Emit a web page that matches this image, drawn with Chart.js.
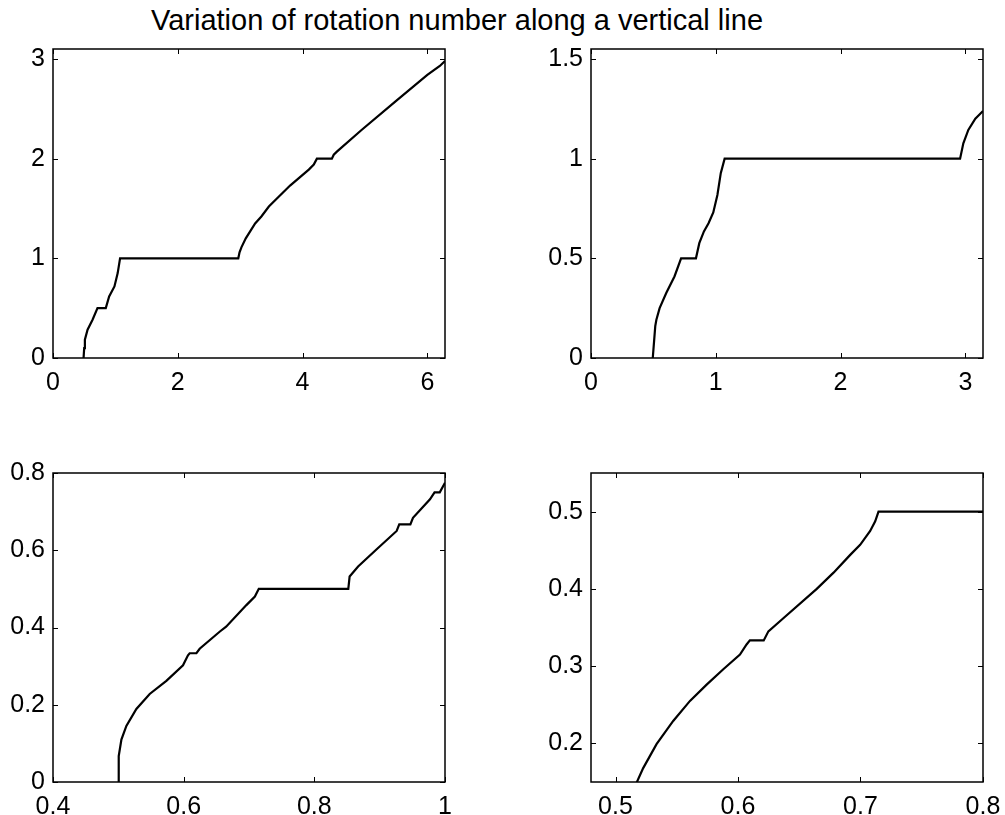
<!DOCTYPE html>
<html>
<head>
<meta charset="utf-8">
<script src="https://cdn.jsdelivr.net/npm/chart.js@4.4.1/dist/chart.umd.min.js"></script>
<style>
  html, body { margin: 0; padding: 0; background: #fff; width: 1005px; height: 815px; overflow: hidden; }
  canvas { position: absolute; }
  #title {
    position: absolute; left: 0; width: 914px; top: 6px; text-align: center;
    font-family: "Liberation Sans", Arial, Helvetica, sans-serif; font-size: 29px; line-height: 29px; color: #000;
  }
</style>
</head>
<body>
<div id="title">Variation of rotation number along a vertical line</div>
<canvas id="c1" width="465" height="370" style="left:0px;top:30px"></canvas>
<canvas id="c2" width="465" height="370" style="left:538px;top:30px"></canvas>
<canvas id="c3" width="465" height="370" style="left:0px;top:454px"></canvas>
<canvas id="c4" width="465" height="370" style="left:538px;top:454px"></canvas>
<script>
// top left: 0 .. 2pi
const x1 = [0.49, 0.5, 0.511, 0.554, 0.634, 0.713, 0.846, 0.9, 0.985, 1.037, 1.075, 2.97, 2.99, 3.02, 3.09, 3.16, 3.24, 3.34, 3.46, 3.8, 4.1, 4.18, 4.23, 4.47, 4.5, 4.55, 4.95, 5.5, 6.0, 6.2, 6.283];
const y1 = [0, 0.1, 0.183, 0.284, 0.384, 0.5, 0.5, 0.618, 0.718, 0.852, 1, 1, 1.06, 1.11, 1.2, 1.27, 1.35, 1.42, 1.52, 1.73, 1.89, 1.94, 2, 2, 2.04, 2.07, 2.29, 2.58, 2.84, 2.93, 2.98];
const xTicks1 = [0, 2, 4, 6];
const yTicks1 = [0, 1, 2, 3];

// top right: 0 .. pi
const x2 = [0.495, 0.505, 0.515, 0.524, 0.55, 0.603, 0.669, 0.722, 0.841, 0.868, 0.905, 0.942, 0.98, 1.013, 1.04, 1.071, 2.958, 2.984, 3.024, 3.08, 3.1416];
const y2 = [0, 0.08, 0.16, 0.192, 0.25, 0.326, 0.409, 0.5, 0.5, 0.576, 0.635, 0.676, 0.73, 0.818, 0.927, 1, 1, 1.077, 1.144, 1.2, 1.239];
const xTicks2 = [0, 1, 2, 3];
const yTicks2 = [0, 0.5, 1, 1.5];

// bottom left: 0.4 .. 1
const x3 = [0.4995, 0.5006, 0.5047, 0.5123, 0.5276, 0.548, 0.5735, 0.599, 0.6066, 0.6092, 0.6195, 0.6245, 0.655, 0.665, 0.696, 0.709, 0.715, 0.852, 0.854, 0.867, 0.895, 0.926, 0.93, 0.947, 0.951, 0.977, 0.984, 0.992, 1.0];
const y3 = [0, 0.067, 0.11, 0.145, 0.189, 0.228, 0.262, 0.302, 0.328, 0.3333, 0.3333, 0.345, 0.389, 0.402, 0.458, 0.48, 0.5, 0.5, 0.532, 0.558, 0.602, 0.65, 0.667, 0.667, 0.684, 0.732, 0.75, 0.75, 0.775];
const xTicks3 = [0.4, 0.6, 0.8, 1];
const yTicks3 = [0, 0.2, 0.4, 0.6, 0.8];

// bottom right: 0.48 .. 0.8
const x4 = [0.5148, 0.5172, 0.5226, 0.5335, 0.5471, 0.5608, 0.5744, 0.588, 0.6016, 0.607, 0.6097, 0.621, 0.6248, 0.637, 0.6643, 0.678, 0.6916, 0.6997, 0.7079, 0.712, 0.7147, 0.8];
const y4 = [0.14, 0.149, 0.168, 0.199, 0.229, 0.255, 0.276, 0.296, 0.315, 0.328, 0.3333, 0.3333, 0.345, 0.362, 0.4, 0.421, 0.444, 0.457, 0.475, 0.4875, 0.5, 0.5];
const xTicks4 = [0.5, 0.6, 0.7, 0.8];
const yTicks4 = [0.2, 0.3, 0.4, 0.5];

const FONT = { family: '"Liberation Sans", Arial, Helvetica, sans-serif', size: 25 };

// matlab style box with ticks pointing inwards on all four sides
const innerTicks = {
  id: 'innerTicks',
  afterDatasetsDraw(chart) {
    const { ctx, chartArea: a, scales: { x, y } } = chart;
    ctx.save();
    ctx.strokeStyle = '#000';
    ctx.lineWidth = 1;
    ctx.beginPath();
    x.ticks.forEach((t) => {
      const px = Math.round(x.getPixelForValue(t.value)) + 0.5;
      ctx.moveTo(px, a.bottom); ctx.lineTo(px, a.bottom - 5);
      ctx.moveTo(px, a.top); ctx.lineTo(px, a.top + 5);
    });
    y.ticks.forEach((t) => {
      const py = Math.round(y.getPixelForValue(t.value)) + 0.5;
      ctx.moveTo(a.left, py); ctx.lineTo(a.left + 5, py);
      ctx.moveTo(a.right, py); ctx.lineTo(a.right - 5, py);
    });
    ctx.stroke();
    ctx.lineWidth = 1.5;
    ctx.strokeRect(a.left, a.top, a.width, a.height);
    ctx.restore();
  },
};

const makePlot = (id, xs, ys, xmin, xmax, ymin, ymax, xTicks, yTicks) => {
  const ctx = document.getElementById(id).getContext('2d');
  return new Chart(ctx, {
    type: 'scatter',
    data: {
      datasets: [{
        data: xs.map((v, i) => ({ x: v, y: ys[i] })),
        showLine: true,
        borderColor: '#000',
        borderWidth: 2.2,
        pointRadius: 0,
        tension: 0,
      }],
    },
    options: {
      responsive: false,
      animation: false,
      layout: { padding: { top: 19, right: 20, left: 0, bottom: 0 } },
      plugins: { legend: { display: false }, tooltip: { enabled: false } },
      scales: {
        x: {
          type: 'linear', min: xmin, max: xmax,
          grid: { display: false, drawTicks: false }, border: { display: false },
          afterBuildTicks: (s) => { s.ticks = xTicks.map((v) => ({ value: v })); },
          afterFit: (s) => { s.height = 42; s.paddingLeft = 0; s.paddingRight = 0; },
          ticks: { color: '#000', font: FONT, padding: 10, maxRotation: 0, autoSkip: false, callback: (v) => String(v) },
        },
        y: {
          type: 'linear', min: ymin, max: ymax,
          grid: { display: false, drawTicks: false }, border: { display: false },
          afterBuildTicks: (s) => { s.ticks = yTicks.map((v) => ({ value: v })); },
          afterFit: (s) => { s.width = 53; s.paddingTop = 0; s.paddingBottom = 0; },
          ticks: { color: '#000', font: FONT, padding: 8, autoSkip: false, callback: (v) => String(v) },
        },
      },
    },
    plugins: [innerTicks],
  });
};

makePlot('c1', x1, y1, 0, 2 * Math.PI, 0, 3.1, xTicks1, yTicks1);
makePlot('c2', x2, y2, 0, Math.PI, 0, 1.55, xTicks2, yTicks2);
makePlot('c3', x3, y3, 0.4, 1, 0, 0.8, xTicks3, yTicks3);
makePlot('c4', x4, y4, 0.48, 0.8, 0.15, 0.55, xTicks4, yTicks4);
</script>
</body>
</html>
